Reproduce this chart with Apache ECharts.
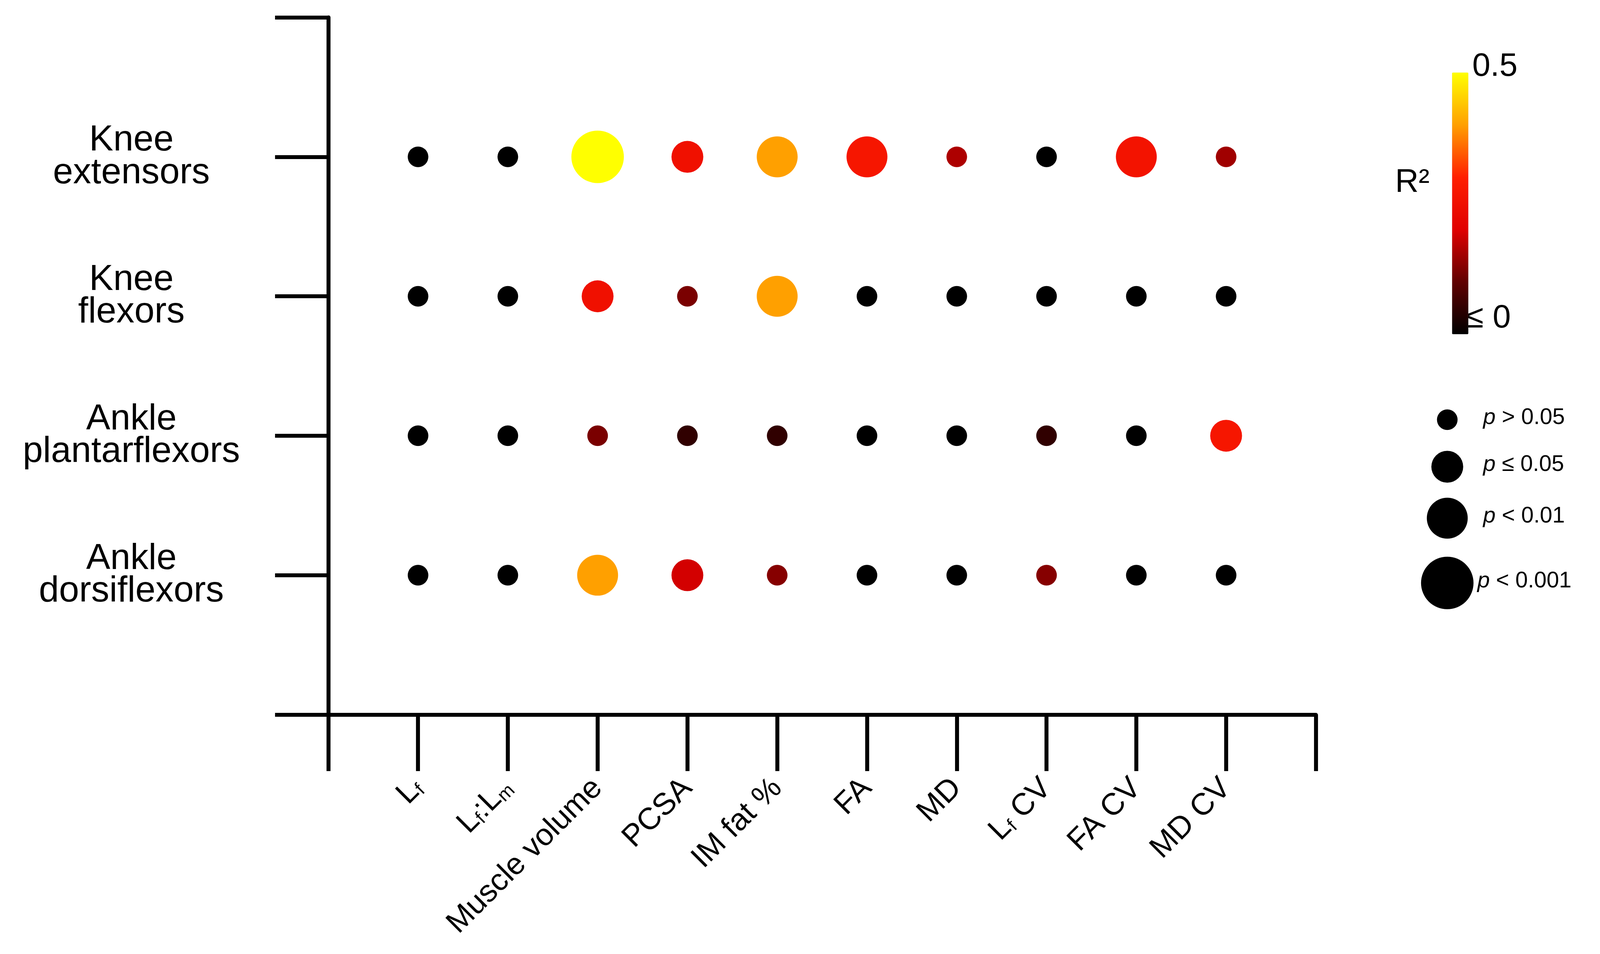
<!DOCTYPE html>
<html><head><meta charset="utf-8">
<script src="https://cdn.jsdelivr.net/npm/echarts@6/dist/echarts.min.js"></script>
<style>html,body{margin:0;padding:0;background:#fff;overflow:hidden}#c{width:100vw;height:100vh}</style>
</head><body><div id="c"></div>
<script>
const measures = ['L{s|f}', 'L{s|f}:L{s|m}', 'Muscle volume', 'PCSA', 'IM fat %', 'FA', 'MD', 'L{s|f} CV', 'FA CV', 'MD CV'];
const groups = ['Ankle\ndorsiflexors', 'Ankle\nplantarflexors', 'Knee\nflexors', 'Knee\nextensors']; // y = 1..4
// R² values per group (columns follow measures)
const r2KneeExt   = [0, 0, 0.5, 0.25, 0.4, 0.27, 0.16, 0, 0.26, 0.15];
const r2KneeFlex  = [0, 0, 0.25, 0.12, 0.4, 0, 0, 0, 0, 0];
const r2AnklePF   = [0, 0, 0.12, 0.05, 0.05, 0, 0, 0.05, 0, 0.27];
const r2AnkleDF   = [0, 0, 0.4, 0.19, 0.13, 0, 0, 0.13, 0, 0];
// significance class: 0 p>0.05, 1 p<=0.05, 2 p<0.01, 3 p<0.001
const pKneeExt  = [0, 0, 3, 1, 2, 2, 0, 0, 2, 0];
const pKneeFlex = [0, 0, 1, 0, 2, 0, 0, 0, 0, 0];
const pAnklePF  = [0, 0, 0, 0, 0, 0, 0, 0, 0, 1];
const pAnkleDF  = [0, 0, 2, 1, 0, 0, 0, 0, 0, 0];
const pLabels = ['p > 0.05', 'p ≤ 0.05', 'p < 0.01', 'p < 0.001'];
const sizesRef = [57, 88, 113, 145];

const el = document.getElementById('c');
const k = el.clientWidth / 4421;
const s = v => v * k;
const sizes = sizesRef.map(s);

const rows = [[r2AnkleDF, pAnkleDF], [r2AnklePF, pAnklePF], [r2KneeFlex, pKneeFlex], [r2KneeExt, pKneeExt]];
const data = [];
rows.forEach((r, yi) => r[0].forEach((v, xi) => data.push([xi + 1, yi + 1, v, r[1][xi]])));

const black = '#000';
const F = 'Arial, "Liberation Sans"';
const legendY = [1159, 1289, 1431, 1610];
const graphics = [
  {type:'text', left:s(3855), top:s(460), style:{text:'R²', font:s(90)+'px '+F, fill:black}},
  {type:'text', left:s(4068), top:s(140), style:{text:'0.5', font:s(90)+'px '+F, fill:black}},
  {type:'text', left:s(4050), top:s(835), style:{text:'≤ 0', font:s(90)+'px '+F, fill:black}}
];
pLabels.forEach((t, i) => {
  graphics.push({type:'circle', shape:{cx:s(3999), cy:s(legendY[i]), r:sizes[i]/2}, style:{fill:black}});
  graphics.push({type:'text', left: s(i===3 ? 4082 : 4098), top: s(legendY[i]-36), style:{
    text:'{i|p}' + t.slice(1), font:s(62)+'px '+F, fill:black,
    rich:{i:{fontStyle:'italic', fontSize:s(62), fontFamily:F}}}});
});

const chart = echarts.init(el);
chart.setOption({
  backgroundColor:'#fff',
  animation:false,
  grid:{left:s(907), right:s(785), top:s(48), bottom:s(661)},
  xAxis:{type:'value', min:0, max:11, interval:1, splitLine:{show:false},
    axisLine:{lineStyle:{color:black, width:s(11)}},
    axisTick:{length:s(156), lineStyle:{color:black, width:s(11)}},
    axisLabel:{margin:s(190), rotate:45, fontSize:s(85), color:black, fontFamily:F,
      formatter:v => (v>=1 && v<=10) ? measures[v-1] : '',
      rich:{s:{fontSize:s(52), verticalAlign:'bottom', padding:[s(28),0,0,0], fontFamily:F}}}},
  yAxis:{type:'value', min:0, max:5, interval:1, splitLine:{show:false},
    axisLine:{lineStyle:{color:black, width:s(11)}},
    axisTick:{length:s(147), lineStyle:{color:black, width:s(11)}},
    axisLabel:{margin:s(544), align:'center', fontSize:s(100), lineHeight:s(90), color:black, fontFamily:F,
      formatter:v => (v>=1 && v<=4) ? groups[v-1] : ''}},
  visualMap:{type:'continuous', dimension:2, seriesIndex:0, min:0, max:0.5, calculable:false,
    left:s(3996), top:s(184), itemWidth:s(45), itemHeight:s(723), text:['',''], showLabel:false,
    inRange:{color:['#000000','#600000','#e00000','#ff2000','#ffa000','#ffff00']}},
  graphic:graphics,
  series:[{type:'scatter', data:data, symbolSize:d => sizes[d[3]], itemStyle:{opacity:1}}]
});
</script></body></html>
